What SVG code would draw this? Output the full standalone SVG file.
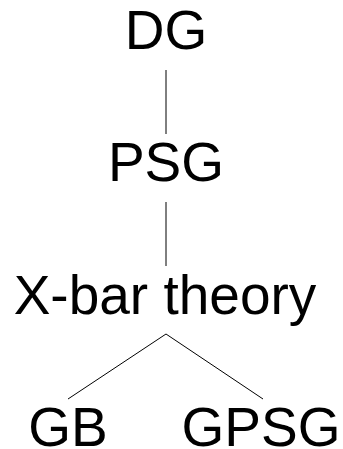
<svg xmlns="http://www.w3.org/2000/svg" width="343" height="449" viewBox="0 0 343 449">
<style>
text{font-family:"Liberation Sans",Arial,sans-serif;font-size:55px;fill:#000;text-anchor:middle}
.e{stroke:#000;stroke-width:1;fill:none}
</style>
<rect width="343" height="449" fill="#fff"/>
<g id="connectors">
<line class="e" x1="166" y1="70" x2="166" y2="134"/>
<line class="e" x1="166" y1="202" x2="166" y2="266"/>
<line class="e" x1="166" y1="334" x2="68" y2="399"/>
<line class="e" x1="166" y1="334" x2="263" y2="399"/>
</g>
<g id="DG"><text x="166" y="49">DG</text></g>
<g id="PSG"><text x="166" y="181">PSG</text></g>
<g id="Xbar"><text x="165" y="314">X-bar theory</text></g>
<g id="GB"><text x="68" y="446">GB</text></g>
<g id="GPSG"><text x="261" y="446">GPSG</text></g>
</svg>
